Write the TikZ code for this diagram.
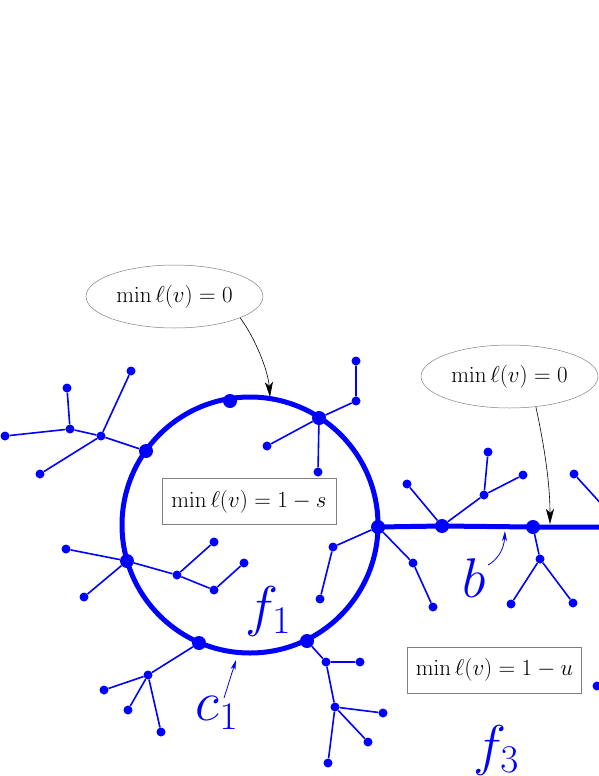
\RequirePackage{fix-cm}
\documentclass[tikz,border=0pt]{standalone}
\usetikzlibrary{arrows.meta,shapes.geometric}
\begin{document}
\begin{tikzpicture}[x=1pt,y=-1pt,
  sdot/.style={circle,fill=blue,inner sep=0pt,minimum size=9pt},
  bdot/.style={circle,fill=blue,inner sep=0pt,minimum size=14pt},
  tedge/.style={blue,line width=1.6pt},
  bigedge/.style={blue,line width=5pt},
  oval/.style={ellipse,draw=gray,line width=0.5pt,minimum width=177pt,minimum height=63pt,inner sep=0pt,font=\fontsize{23}{27}\selectfont},
  rbox/.style={rectangle,draw=gray,line width=0.6pt,minimum width=174pt,minimum height=46pt,inner sep=0pt,font=\fontsize{23}{27}\selectfont},
  biglbl/.style={text=blue,inner sep=0pt,font=\fontsize{56}{60}\selectfont},
  callout/.style={black,line width=0.6pt,-{Stealth[length=15pt,width=8pt,inset=4pt]}},
  bcallout/.style={blue,line width=0.8pt,-{Stealth[length=10pt,width=5pt,inset=3pt]}}]
\useasboundingbox (0,0) rectangle (599,776);

% main circle and thick line
\draw[bigedge] (250,525) circle [radius=128pt];
\coordinate (lend) at (620,527);

% circle vertices
\node[bdot] (ca) at (230,401) {};
\node[bdot] (cb) at (146,451) {};
\node[bdot] (cc) at (319,418) {};
\node[bdot] (cd) at (378,527) {};
\node[bdot] (ce) at (127,561) {};
\node[bdot] (cf) at (199,643) {};
\node[bdot] (cg) at (307,641) {};
\node[bdot] (la) at (442,526) {};
\node[bdot] (lb) at (533,527) {};
\draw[bigedge] (cd.center) -- (la.center) -- (lb.center) -- (lend);

% tree at cb
\node[sdot] (b1) at (101,436) {};
\node[sdot] (b2) at (70,429) {};
\node[sdot] (b3) at (131,371) {};
\node[sdot] (b4) at (40,474) {};
\node[sdot] (b5) at (67,388) {};
\node[sdot] (b6) at (5,436) {};
\draw[tedge] (cb) -- (b1) (b1) -- (b2) (b1) -- (b3) (b1) -- (b4) (b2) -- (b5) (b2) -- (b6);

% tree at cc
\node[sdot] (q1) at (267,446) {};
\node[sdot] (q2) at (318,472) {};
\node[sdot] (q3) at (356,401) {};
\node[sdot] (q4) at (356,361) {};
\draw[tedge] (cc) -- (q1) (cc) -- (q2) (cc) -- (q3) (q3) -- (q4);

% tree at ce
\node[sdot] (e1) at (66,549) {};
\node[sdot] (e2) at (84,597) {};
\node[sdot] (e3) at (177,575) {};
\node[sdot] (e4) at (214,542) {};
\node[sdot] (e5) at (214,590) {};
\node[sdot] (e6) at (244,563) {};
\draw[tedge] (ce) -- (e1) (ce) -- (e2) (ce) -- (e3) (e3) -- (e4) (e3) -- (e5) (e5) -- (e6);

% tree at cf
\node[sdot] (f1) at (148,675) {};
\node[sdot] (f2) at (104,690) {};
\node[sdot] (f3) at (128,710) {};
\node[sdot] (f4) at (161,732) {};
\draw[tedge] (cf) -- (f1) (f1) -- (f2) (f1) -- (f3) (f1) -- (f4);

% tree at cd
\node[sdot] (d1) at (333,547) {};
\node[sdot] (d2) at (320,599) {};
\node[sdot] (d3) at (413,563) {};
\node[sdot] (d4) at (433,607) {};
\draw[tedge] (cd) -- (d1) (d1) -- (d2) (cd) -- (d3) (d3) -- (d4);

% tree at cg
\node[sdot] (g1) at (326,662) {};
\node[sdot] (g2) at (360,662) {};
\node[sdot] (g3) at (335,707) {};
\node[sdot] (g4) at (383,713) {};
\node[sdot] (g5) at (368,742) {};
\node[sdot] (g6) at (328,763) {};
\draw[tedge] (cg) -- (g1) (g1) -- (g2) (g1) -- (g3) (g3) -- (g4) (g3) -- (g5) (g3) -- (g6);

% tree at la
\node[sdot] (h1) at (407,484) {};
\node[sdot] (h2) at (484,495) {};
\node[sdot] (h3) at (488,452) {};
\node[sdot] (h4) at (523,475) {};
\draw[tedge] (la) -- (h1) (la) -- (h2) (h2) -- (h3) (h2) -- (h4);

% tree at lb
\node[sdot] (k1) at (540,559) {};
\node[sdot] (k2) at (511,604) {};
\node[sdot] (k3) at (573,603) {};
\draw[tedge] (lb) -- (k1) (k1) -- (k2) (k1) -- (k3);

% partial vertices at right edge
\node[sdot] (m1) at (574,474) {};
\coordinate (mend) at (614,518);
\draw[tedge] (m1) -- (mend);
\node[sdot] (m2) at (597,686) {};

% labels
\node[oval] (o1) at (174.5,296.5) {$\min\ell(v)=0$};
\node[oval] (o2) at (509.5,376.5) {$\min\ell(v)=0$};
\node[rbox] (r1) at (249,501.5) {$\min\ell(v)=1-s$};
\node[rbox] (r2) at (494.5,670) {$\min\ell(v)=1-u$};

\coordinate (t1) at (270,397);
\coordinate (t2) at (550,524);
\draw[callout] (o1.-18) .. controls (255,338) and (268,370) .. (t1);
\draw[callout] (o2.-49) .. controls (543,440) and (550,480) .. (t2);

\node[biglbl] (lf1) at (268,611) {$f_1$};
\node[biglbl] (lc1) at (217,713) {$c_1$};
\node[biglbl] (lbl) at (474,578) {$b$};
\node[biglbl] (lf3) at (496,750) {$f_3$};

\coordinate (tc) at (236,660);
\coordinate (tb) at (505,531);
\draw[bcallout] (224,698) -- (tc);
\draw[bcallout] (488,565) .. controls (497,560) and (504,550) .. (tb);
\end{tikzpicture}
\end{document}
